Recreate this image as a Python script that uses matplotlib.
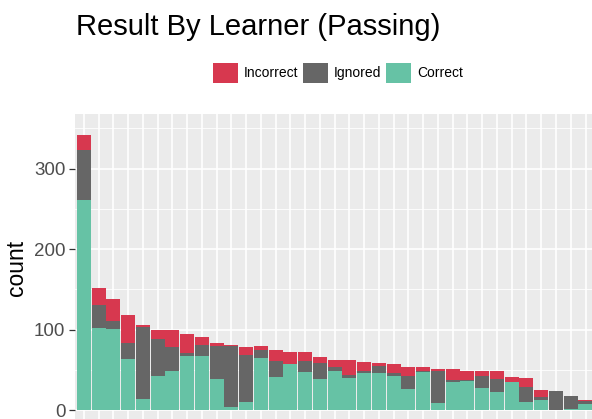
import numpy as np
import matplotlib
matplotlib.use("Agg")
import matplotlib.pyplot as plt
from matplotlib.patches import Patch
from matplotlib.ticker import MultipleLocator

plt.rcParams['font.family'] = ['Liberation Sans', 'DejaVu Sans']

# data, learners sorted by total answers
learners = ["L%d" % (i + 1) for i in range(35)]
correct = [261, 102, 101, 63, 14, 42, 48, 67, 67, 39, 4, 10, 65, 41, 57, 47, 39, 48,
           40, 46, 46, 42, 26, 47, 9, 35, 36, 27, 22, 35, 10, 12, 0, 1, 7]
ignored = [62, 29, 10, 20, 89, 46, 30, 4, 14, 40, 76, 58, 10, 20, 0, 14, 20, 6,
           4, 2, 9, 4, 16, 1, 40, 2, 1, 15, 17, 0, 19, 4, 24, 16, 4]
incorrect = [19, 21, 27, 35, 3, 11, 21, 24, 10, 4, 1, 10, 4, 14, 15, 11, 7, 8,
             18, 12, 3, 11, 11, 5, 2, 14, 12, 6, 9, 6, 11, 9, 0, 0, 1]

col_correct = "#66C2A5"
col_ignored = "#666666"
col_incorrect = "#D7384F"

fig = plt.figure(figsize=(5.92, 4.19), dpi=100)
ax = fig.add_axes([75/592, 1 - 424.1/419, 517/592, 310.1/419])
ax.set_facecolor("#EBEBEB")

x = np.arange(len(learners))
c = np.array(correct)
g = np.array(ignored)
r = np.array(incorrect)
w = 0.95
ax.bar(x, c, width=w, color=col_correct, zorder=3)
ax.bar(x, g, bottom=c, width=w, color=col_ignored, zorder=3)
ax.bar(x, r, bottom=c + g, width=w, color=col_incorrect, zorder=3)

ax.set_xlim(-0.6, 34.44)
ax.set_ylim(-17.5, 368)
ax.yaxis.set_major_locator(MultipleLocator(100))
ax.yaxis.set_minor_locator(MultipleLocator(50))
# learner names sit below the cropped edge of the picture
ax.set_xticks(x)
ax.set_xticklabels([])
ax.grid(which="major", axis="both", color="white", linewidth=1.2, zorder=0)
ax.grid(which="minor", axis="y", color="white", linewidth=0.6, zorder=0)
ax.set_axisbelow(True)
for s in ax.spines.values():
    s.set_visible(False)
ax.tick_params(axis="y", which="major", colors="#333333", length=4, width=0.9,
               labelsize=13.5, labelcolor="#4D4D4D", pad=3)
ax.tick_params(axis="y", which="minor", length=0)
ax.tick_params(axis="x", colors="#333333", length=4)

ax.set_ylabel("count", fontsize=16.5, color="black")
ax.yaxis.set_label_coords(-0.091, 0.503)

fig.text(76/592, 1 - 35/419, "Result By Learner (Passing)", fontsize=21,
         va="baseline", ha="left", color="black")

handles = [Patch(facecolor=col_incorrect, label="Incorrect"),
           Patch(facecolor=col_ignored, label="Ignored"),
           Patch(facecolor=col_correct, label="Correct")]
fig.legend(handles=handles, loc="center", bbox_to_anchor=(338/592, 1 - 73/419),
           ncol=3, frameon=False, fontsize=10, handlelength=1.8, handleheight=1.85,
           handletextpad=0.43, columnspacing=0.36, borderpad=0, borderaxespad=0)

fig.savefig("out.png", dpi=100)
